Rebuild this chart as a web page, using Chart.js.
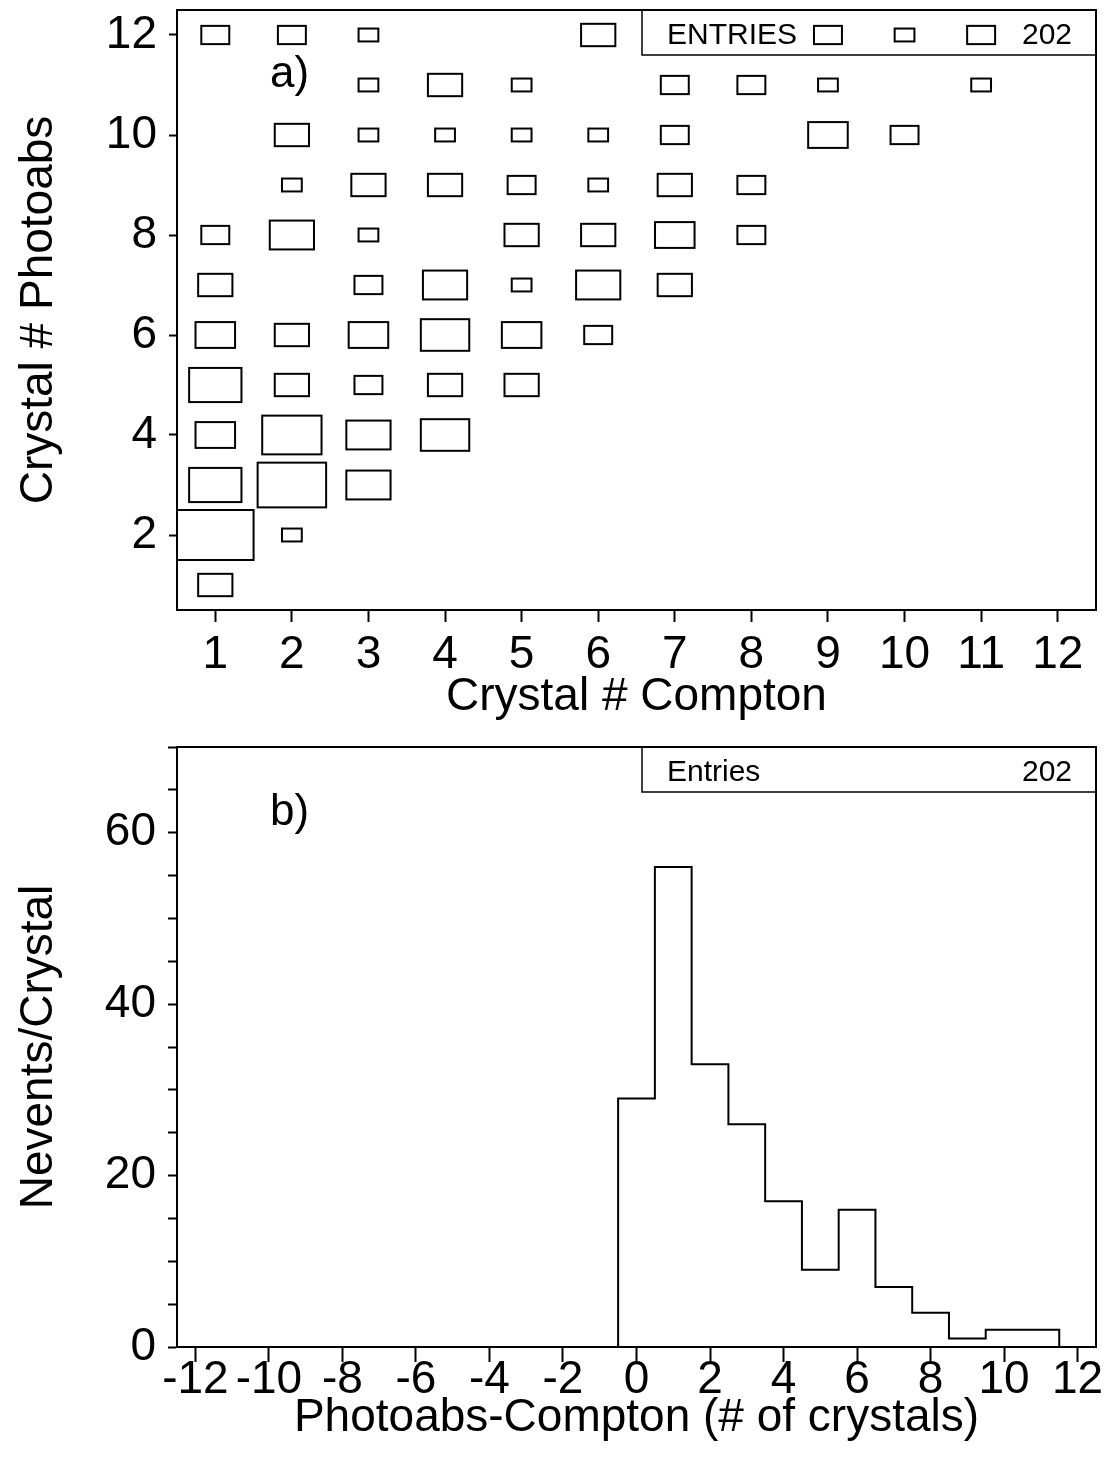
<!DOCTYPE html>
<html>
<head>
<meta charset="utf-8">
<script src="https://cdn.jsdelivr.net/npm/chart.js@4.4.1/dist/chart.umd.min.js"></script>
<style>
    html, body { margin: 0; padding: 0; background: #fff; }
    #boxChart { position: absolute; left: 0; top: 0; }
    #histChart { position: absolute; left: 0; top: 730px; }
</style>
</head>
<body>
<canvas id="boxChart" width="1105" height="725"></canvas>
<canvas id="histChart" width="1105" height="732"></canvas>
<script>
// a) crystal pairs: compton crystal, photoabs crystal, events in the cell
var comptonCrystal = [
    1,
    1, 2,
    1, 2, 3,
    1, 2, 3, 4,
    1, 2, 3, 4, 5,
    1, 2, 3, 4, 5, 6,
    1, 3, 4, 5, 6, 7,
    1, 2, 3, 5, 6, 7, 8,
    2, 3, 4, 5, 6, 7, 8,
    2, 3, 4, 5, 6, 7, 9, 10,
    3, 4, 5, 7, 8, 9, 11,
    1, 2, 3, 6, 9, 10, 11
];
var photoabsCrystal = [
    1,
    2, 2,
    3, 3, 3,
    4, 4, 4, 4,
    5, 5, 5, 5, 5,
    6, 6, 6, 6, 6, 6,
    7, 7, 7, 7, 7, 7,
    8, 8, 8, 8, 8, 8, 8,
    9, 9, 9, 9, 9, 9, 9,
    10, 10, 10, 10, 10, 10, 10, 10,
    11, 11, 11, 11, 11, 11, 11,
    12, 12, 12, 12, 12, 12, 12
];
var cellEvents = [
    3,
    15, 1,
    7, 12, 5,
    4, 9, 5, 6,
    7, 3, 2, 3, 3,
    4, 3, 4, 6, 4, 2,
    3, 2, 5, 1, 5, 3,
    2, 5, 1, 3, 3, 4, 2,
    1, 3, 3, 2, 1, 3, 2,
    3, 1, 1, 1, 1, 2, 4, 2,
    1, 3, 1, 2, 2, 1, 1,
    2, 2, 1, 3, 2, 1, 2
];
var crystalTicks = [1, 2, 3, 4, 5, 6, 7, 8, 9, 10, 11, 12];
var photoTicks = [2, 4, 6, 8, 10, 12];

// b) photoabs - compton difference
var diffBins = [0, 1, 2, 3, 4, 5, 6, 7, 8, 9, 10, 11];
var diffCounts = [29, 56, 33, 26, 17, 9, 16, 7, 4, 1, 2, 2];
var diffTicks = [-12, -10, -8, -6, -4, -2, 0, 2, 4, 6, 8, 10, 12];

var entries = diffCounts.reduce(function (a, b) { return a + b; }, 0);
var maxEvents = Math.max.apply(null, cellEvents);

Chart.defaults.font.family = "'Liberation Sans', Arial, Helvetica, sans-serif";
Chart.defaults.color = '#000';

var FONT_BIG = { size: 46 };

// frame around the plot area
var framePlugin = {
    id: 'frame',
    afterDraw: function (chart) {
        var a = chart.chartArea, ctx = chart.ctx;
        ctx.save();
        ctx.strokeStyle = '#000';
        ctx.lineWidth = 2;
        ctx.strokeRect(a.left, a.top, a.right - a.left, a.bottom - a.top);
        ctx.restore();
    }
};

// stats box + panel label
function statsPlugin(label, panel, panelY) {
    return {
        id: 'stats',
        beforeDatasetsDraw: function (chart) {
            var a = chart.chartArea, ctx = chart.ctx;
            var left = a.right - 454, h = 45;
            ctx.save();
            ctx.strokeStyle = '#000';
            ctx.lineWidth = 1.5;
            ctx.strokeRect(left, a.top, a.right - left, h);
            ctx.fillStyle = '#000';
            ctx.font = "30px 'Liberation Sans', Arial, sans-serif";
            ctx.textBaseline = 'alphabetic';
            ctx.textAlign = 'left';
            ctx.fillText(label, left + 25, a.top + 34);
            ctx.textAlign = 'right';
            ctx.fillText(String(entries), a.right - 24, a.top + 34);
            ctx.font = "44px 'Liberation Sans', Arial, sans-serif";
            ctx.textAlign = 'left';
            ctx.fillText(panel, 270, panelY);
            ctx.restore();
        }
    };
}

// boxes: area proportional to the cell content
var boxPlugin = {
    id: 'cellBoxes',
    afterDatasetsDraw: function (chart) {
        var ctx = chart.ctx, xs = chart.scales.x, ys = chart.scales.y;
        ctx.save();
        ctx.strokeStyle = '#000';
        ctx.lineWidth = 2;
        chart.data.datasets[0].data.forEach(function (p) {
            var half = 0.5 * Math.sqrt(p.n / maxEvents);
            var x0 = xs.getPixelForValue(p.x - half), x1 = xs.getPixelForValue(p.x + half);
            var y0 = ys.getPixelForValue(p.y + half), y1 = ys.getPixelForValue(p.y - half);
            ctx.strokeRect(x0, y0, x1 - x0, y1 - y0);
        });
        ctx.restore();
    }
};

function fixedTicks(values) {
    return function (scale) {
        scale.ticks = values.map(function (v) { return { value: v }; });
    };
}

function fitX(h) {
    return function (s) { s.height = h; s.paddingLeft = 0; s.paddingRight = 0; };
}
function fitY(w) {
    return function (s) { s.width = w; s.paddingTop = 0; s.paddingBottom = 0; };
}

function axisGrid(len) {
    return { drawOnChartArea: false, drawTicks: true, tickLength: len, tickColor: '#000', tickWidth: 2 };
}

var cells = comptonCrystal.map(function (c, i) {
    return { x: c, y: photoabsCrystal[i], n: cellEvents[i] };
});

new Chart(document.getElementById('boxChart'), {
    type: 'scatter',
    data: {
        datasets: [{ data: cells, pointRadius: 0, showLine: false }]
    },
    options: {
        responsive: false,
        animation: false,
        layout: { padding: { top: 10, right: 9, left: 0, bottom: 0 } },
        plugins: { legend: { display: false }, tooltip: { enabled: false } },
        scales: {
            x: {
                type: 'linear', min: 0.5, max: 12.5,
                afterBuildTicks: fixedTicks(crystalTicks),
                afterFit: fitX(115),
                grid: axisGrid(12),
                border: { display: true, color: '#000', width: 2 },
                ticks: { font: FONT_BIG, padding: 6, maxRotation: 0, autoSkip: false },
                title: { display: true, text: 'Crystal # Compton', font: FONT_BIG, padding: { top: 0, bottom: 0 } }
            },
            y: {
                type: 'linear', min: 0.5, max: 12.5,
                afterBuildTicks: fixedTicks(photoTicks),
                afterFit: fitY(177),
                grid: axisGrid(8),
                border: { display: true, color: '#000', width: 2 },
                ticks: { font: FONT_BIG, padding: 12 },
                title: { display: true, text: 'Crystal # Photoabs', font: FONT_BIG, padding: { top: 12, bottom: 0 } }
            }
        }
    },
    plugins: [statsPlugin('ENTRIES', 'a)', 87), boxPlugin, framePlugin]
});

// histogram as a stepped line through the bin edges
var histPoints = [{ x: diffBins[0] - 0.5, y: 0 }];
diffBins.forEach(function (b, i) {
    histPoints.push({ x: b - 0.5, y: diffCounts[i] });
});
histPoints.push({ x: diffBins[diffBins.length - 1] + 0.5, y: 0 });

new Chart(document.getElementById('histChart'), {
    type: 'line',
    data: {
        datasets: [{
            data: histPoints,
            stepped: 'before',
            borderColor: '#000',
            borderWidth: 2,
            pointRadius: 0,
            fill: false
        }]
    },
    options: {
        responsive: false,
        animation: false,
        layout: { padding: { top: 17, right: 9, left: 0, bottom: 0 } },
        plugins: { legend: { display: false }, tooltip: { enabled: false } },
        scales: {
            x: {
                type: 'linear', min: -12.5, max: 12.5,
                afterBuildTicks: fixedTicks(diffTicks),
                afterFit: fitX(115),
                grid: axisGrid(15),
                border: { display: true, color: '#000', width: 2 },
                ticks: { font: FONT_BIG, padding: -9, maxRotation: 0, autoSkip: false },
                title: { display: true, text: 'Photoabs-Compton (# of crystals)', font: FONT_BIG, padding: { top: 0, bottom: 16 } }
            },
            y: {
                type: 'linear', min: 0, max: 70,
                afterFit: fitY(177),
                grid: axisGrid(9),
                border: { display: true, color: '#000', width: 2 },
                ticks: {
                    font: FONT_BIG, padding: 12, stepSize: 5, autoSkip: false,
                    callback: function (v) { return v % 20 === 0 ? String(v) : ''; }
                },
                title: { display: true, text: 'Nevents/Crystal', font: FONT_BIG, padding: { top: 12, bottom: 0 } }
            }
        }
    },
    plugins: [statsPlugin('Entries', 'b)', 95), framePlugin]
});
</script>
</body>
</html>
